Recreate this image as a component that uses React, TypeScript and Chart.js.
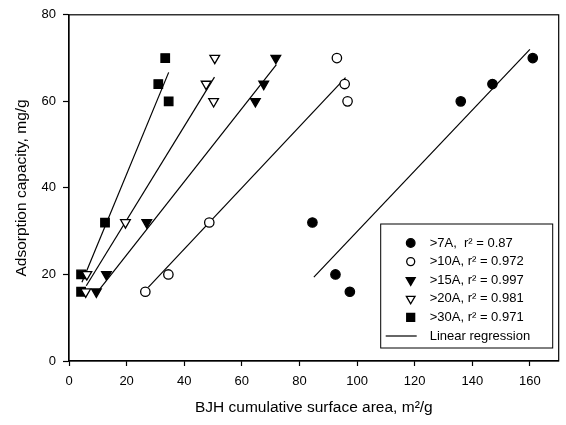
import { Chart, registerables } from 'chart.js'
import { useEffect, useRef } from 'react'

Chart.register(...registerables)

// BJH cumulative surface area (m2/g) vs adsorption capacity (mg/g)
const area7 = [84.5, 92.5, 97.5, 136, 147, 161]
const cap7 = [32, 20, 16, 60, 64, 70]
const area10 = [26.5, 34.5, 48.7, 93, 95.7, 96.7]
const cap10 = [16, 20, 32, 70, 64, 60]
const area15 = [9.5, 13, 27, 64.7, 67.6, 71.8]
const cap15 = [16, 20, 32, 60, 64, 70]
const area20 = [5.8, 6.2, 19.6, 47.6, 50.2, 50.6]
const cap20 = [16, 20, 32, 64, 60, 70]
const area30 = [4.2, 4.2, 12.5, 31, 34.6, 33.4]
const cap30 = [16, 20, 32, 64, 60, 70]

// regression line end points
const fit7X = [85, 160]
const fit7Y = [19.4, 72]
const fit10X = [27.5, 96]
const fit10Y = [17, 65.5]
const fit15X = [9.5, 72]
const fit15Y = [15.6, 68.5]
const fit20X = [6, 50.5]
const fit20Y = [17.4, 65.6]
const fit30X = [4.5, 34.6]
const fit30Y = [18.2, 66.7]

const seriesLabels = ['>7A,  r² = 0.87', '>10A, r² = 0.972', '>15A, r² = 0.997', '>20A, r² = 0.981', '>30A, r² = 0.971']
const lineLabel = 'Linear regression'

const xTicks = [0, 20, 40, 60, 80, 100, 120, 140, 160]
const yTicks = [0, 20, 40, 60, 80]

const FONT = "'Liberation Sans', Arial, sans-serif"

const pts = (xs: number[], ys: number[]) => xs.map((x, i) => ({ x, y: ys[i] }))

type Marker = { style: string; filled: boolean; r: number; legendR: number }
const markers: Marker[] = [
  { style: 'circle', filled: true, r: 4.7, legendR: 4.3 },
  { style: 'circle', filled: false, r: 4.7, legendR: 4.0 },
  { style: 'down', filled: true, r: 5.6, legendR: 5.2 },
  { style: 'down', filled: false, r: 5.6, legendR: 5.0 },
  { style: 'rect', filled: true, r: 6.0, legendR: 5.6 },
]

function drawMarker(ctx: CanvasRenderingContext2D, m: Marker, x: number, y: number, r: number) {
  ctx.beginPath()
  if (m.style === 'circle') {
    ctx.arc(x, y, r, 0, Math.PI * 2)
  } else if (m.style === 'down') {
    const h = r * Math.sqrt(3) / 2
    ctx.moveTo(x, y + r)
    ctx.lineTo(x - h, y - r / 2)
    ctx.lineTo(x + h, y - r / 2)
    ctx.closePath()
  } else {
    const s = r * Math.SQRT1_2
    ctx.rect(x - s, y - s, 2 * s, 2 * s)
  }
  ctx.fillStyle = m.filled ? '#000' : '#fff'
  ctx.fill()
  ctx.lineWidth = 1.3
  ctx.strokeStyle = '#000'
  ctx.stroke()
}

const framePlugin = {
  id: 'frameAndLegend',
  afterDraw(chart: Chart) {
    const { ctx, chartArea } = chart
    ctx.save()
    ctx.strokeStyle = '#000'
    ctx.lineWidth = 1.2
    ctx.strokeRect(chartArea.left, chartArea.top, chartArea.right - chartArea.left, chartArea.bottom - chartArea.top)

    // legend box in the lower right of the plot
    const left = chartArea.right - 178
    const top = chartArea.bottom - 137
    const w = 172
    const h = 124
    ctx.fillStyle = '#fff'
    ctx.fillRect(left, top, w, h)
    ctx.lineWidth = 1
    ctx.strokeRect(left, top, w, h)

    ctx.font = `13px ${FONT}`
    ctx.textBaseline = 'middle'
    ctx.textAlign = 'left'
    const rowH = 18.6
    seriesLabels.forEach((lab, i) => {
      const y = top + 19 + i * rowH
      drawMarker(ctx, markers[i], left + 30, y, markers[i].legendR)
      ctx.fillStyle = '#000'
      ctx.fillText(lab, left + 49, y)
    })
    const ly = top + 19 + 5 * rowH
    ctx.beginPath()
    ctx.moveTo(left + 5, ly)
    ctx.lineTo(left + 36, ly)
    ctx.lineWidth = 1.2
    ctx.strokeStyle = '#000'
    ctx.stroke()
    ctx.fillStyle = '#000'
    ctx.fillText(lineLabel, left + 49, ly)
    ctx.restore()
  },
}

export default function App() {
  const chartRef = useRef<HTMLCanvasElement>(null)
  const chartInstance = useRef<Chart | null>(null)

  useEffect(() => {
    if (!chartRef.current) return
    if (chartInstance.current) chartInstance.current.destroy()
    const ctx = chartRef.current.getContext('2d')
    if (!ctx) return

    const scatterData = [pts(area7, cap7), pts(area10, cap10), pts(area15, cap15), pts(area20, cap20), pts(area30, cap30)]
    const fits = [pts(fit7X, fit7Y), pts(fit10X, fit10Y), pts(fit15X, fit15Y), pts(fit20X, fit20Y), pts(fit30X, fit30Y)]

    const scatterSets = scatterData.map((d, i) => {
      const m = markers[i]
      return {
        label: seriesLabels[i],
        data: d,
        showLine: false,
        pointStyle: m.style === 'down' ? 'triangle' : m.style,
        rotation: m.style === 'down' ? 180 : 0,
        pointRadius: m.r,
        pointHoverRadius: m.r,
        pointBackgroundColor: m.filled ? '#000' : '#fff',
        pointBorderColor: '#000',
        pointBorderWidth: 1.3,
        order: 1,
      }
    })
    const lineSets = fits.map((d) => ({
      label: lineLabel,
      data: d,
      showLine: true,
      borderColor: '#000',
      borderWidth: 1.2,
      pointRadius: 0,
      fill: false,
      order: 2,
    }))

    chartInstance.current = new Chart(ctx, {
      type: 'scatter',
      data: { datasets: [...scatterSets, ...lineSets] as any },
      options: {
        animation: false,
        responsive: true,
        maintainAspectRatio: false,
        layout: { padding: { top: 12, right: 5, left: 0, bottom: 0 } },
        plugins: {
          legend: { display: false },
          tooltip: { enabled: false },
        },
        scales: {
          x: {
            type: 'linear',
            min: 0,
            max: 170,
            afterFit: (s: any) => { s.height = 64 },
            afterBuildTicks: (s: any) => { s.ticks = xTicks.map((v) => ({ value: v })) },
            ticks: { font: { family: FONT, size: 13 }, color: '#000', padding: 8, includeBounds: false },
            grid: { drawOnChartArea: false, drawTicks: true, tickLength: 5, tickColor: '#000', tickWidth: 1.2 },
            border: { display: true, color: '#000', width: 1.2 },
            title: {
              display: true,
              text: 'BJH cumulative surface area, m²/g',
              font: { family: FONT, size: 15.5 },
              color: '#000',
              padding: { top: 4, bottom: 8 },
            },
          },
          y: {
            type: 'linear',
            min: 0,
            max: 80,
            afterFit: (s: any) => { s.width = 69 },
            afterBuildTicks: (s: any) => { s.ticks = yTicks.map((v) => ({ value: v })) },
            ticks: { font: { family: FONT, size: 13 }, color: '#000', padding: 7 },
            grid: { drawOnChartArea: false, drawTicks: true, tickLength: 6, tickColor: '#000', tickWidth: 1.2 },
            border: { display: true, color: '#000', width: 1.2 },
            title: {
              display: true,
              text: 'Adsorption capacity, mg/g',
              font: { family: FONT, size: 15.5 },
              color: '#000',
              padding: { top: 12, bottom: 0 },
            },
          },
        },
      },
      plugins: [framePlugin],
    })

    return () => {
      if (chartInstance.current) {
        chartInstance.current.destroy()
        chartInstance.current = null
      }
    }
  }, [])

  return (
    <div style={{ position: 'absolute', left: 0, top: 0, width: 566, height: 425, background: '#fff' }}>
      <canvas ref={chartRef}></canvas>
    </div>
  )
}
